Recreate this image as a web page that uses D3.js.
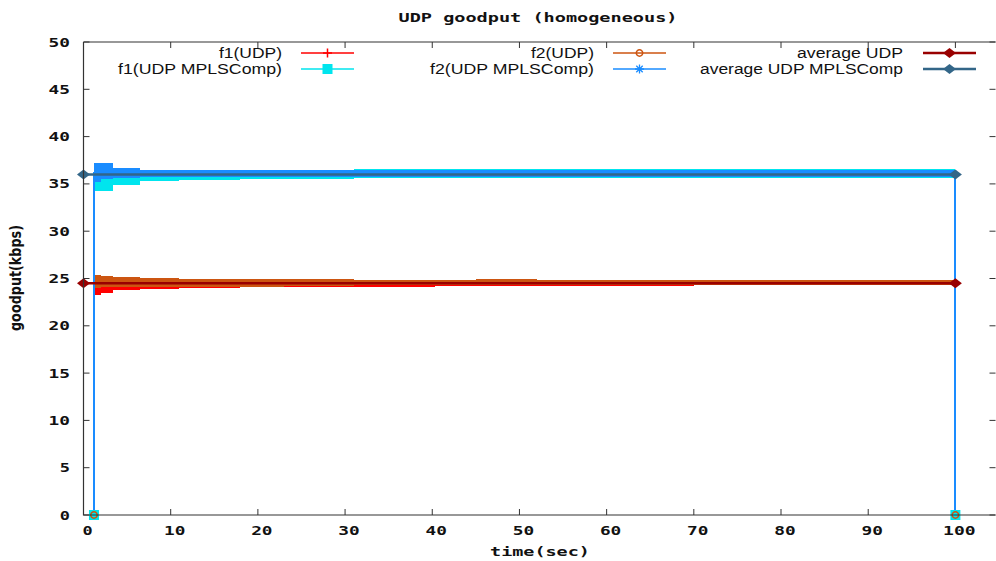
<!DOCTYPE html>
<html>
<head>
<meta charset="utf-8">
<script src="https://cdn.jsdelivr.net/npm/d3@7/dist/d3.min.js"></script>
<style>
  body { margin: 0; background: #fff; }
  svg { display: block; }
</style>
</head>
<body>
<div id="chart"></div>
<script>
(function(d3) {
  'use strict';

  // values
  var xTicks = [0, 10, 20, 30, 40, 50, 60, 70, 80, 90, 100];
  var yTicks = [0, 5, 10, 15, 20, 25, 30, 35, 40, 45, 50];

  var seriesNames = ['f1(UDP)', 'f1(UDP MPLSComp)', 'f2(UDP)', 'f2(UDP MPLSComp)'];
  var avgNames = ['average UDP', 'average UDP MPLSComp'];

  var startTime = 1.2;
  var endTime = 100;

  // envelope of each noisy trace (min / max over each time step)
  var bandTime   = [1.2,  2,    3.4,  6.5,  11,    18,   23,   31,    45,    52,    70,    100];
  var f1UdpLow   = [23.3, 23.5, 23.8, 23.9, 23.95, 24.1, 24.2, 24.25, 24.25, 24.25, 24.3,  24.3];
  var f1UdpHigh  = [24.9, 24.8, 24.7, 24.7, 24.7,  24.7, 24.7, 24.7,  24.7,  24.7,  24.7,  24.7];
  var f1MplsLow  = [34.2, 34.2, 34.9, 35.3, 35.4,  35.5, 35.5, 35.65, 35.65, 35.65, 35.65, 35.65];
  var f1MplsHigh = [36.9, 36.8, 36.5, 36.45,36.45, 36.45,36.45,36.55, 36.55, 36.55, 36.55, 36.55];
  var f2UdpLow   = [24.0, 24.05,24.1, 24.1, 24.1,  24.1, 24.25,24.3,  24.3,  24.3,  24.3,  24.3];
  var f2UdpHigh  = [25.4, 25.3, 25.2, 25.1, 25.0,  24.95,24.9, 24.85, 24.9,  24.85, 24.85, 24.85];
  var f2MplsLow  = [35.2, 35.5, 35.65,35.7, 35.7,  35.7, 35.7, 35.75, 35.75, 35.75, 35.75, 35.75];
  var f2MplsHigh = [37.2, 37.2, 36.65,36.45,36.45, 36.45,36.45,36.5,  36.5,  36.5,  36.5,  36.5];

  var avgValues = [24.5, 36.0];
  var avgTimes = [0, 100];

  var width = 996;
  var height = 561;
  var left = 83.5, right = 995.5, top = 42, bottom = 515;

  var colors = ['#ff0000', '#00e5ee', '#cc5511', '#1a8cff'];
  var markers = ['plus', 'square', 'circle', 'star'];
  var avgColors = ['#990000', '#336688'];

  var series = [
    { name: seriesNames[0], low: f1UdpLow, high: f1UdpHigh },
    { name: seriesNames[1], low: f1MplsLow, high: f1MplsHigh },
    { name: seriesNames[2], low: f2UdpLow, high: f2UdpHigh },
    { name: seriesNames[3], low: f2MplsLow, high: f2MplsHigh }
  ];

  var x = d3.scaleLinear().domain([0, 104.6]).range([left, right]);
  var y = d3.scaleLinear().domain([0, 50]).range([bottom, top]);

  var svg = d3.select('#chart')
    .append('svg')
    .attr('width', width)
    .attr('height', height);

  var pixFont = '"DejaVu Sans Mono", monospace';
  var charW = 11.2;

  function pixText(sel, str, anchor) {
    return sel.append('text')
      .attr('font-family', pixFont)
      .attr('font-weight', 'bold')
      .attr('font-size', 12)
      .attr('fill', '#111')
      .attr('text-anchor', anchor || 'middle')
      .attr('textLength', str.length * charW - 1)
      .attr('lengthAdjust', 'spacingAndGlyphs')
      .text(str);
  }

  // title
  pixText(svg, 'UDP goodput (homogeneous)').attr('x', 538).attr('y', 22);

  // x axis ticks + labels (mirrored on top)
  var axisColor = '#333';
  var xt = svg.append('g');
  xTicks.forEach(function(t) {
    xt.append('line').attr('x1', x(t)).attr('x2', x(t)).attr('y1', bottom).attr('y2', bottom - 6)
      .attr('stroke', axisColor);
    xt.append('line').attr('x1', x(t)).attr('x2', x(t)).attr('y1', top).attr('y2', top + 6)
      .attr('stroke', axisColor);
    pixText(xt, String(t)).attr('x', x(t) + 4).attr('y', 535);
  });

  var yt = svg.append('g');
  yTicks.forEach(function(t) {
    yt.append('line').attr('x1', left).attr('x2', left + 6).attr('y1', y(t)).attr('y2', y(t))
      .attr('stroke', axisColor);
    yt.append('line').attr('x1', right).attr('x2', right - 6).attr('y1', y(t)).attr('y2', y(t))
      .attr('stroke', axisColor);
    pixText(yt, String(t), 'end').attr('x', 70).attr('y', y(t) + 4.5);
  });

  pixText(svg, 'time(sec)').attr('x', 540).attr('y', 556);

  svg.append('text')
    .attr('transform', 'translate(21,278) rotate(-90)')
    .attr('font-family', '"DejaVu Sans", sans-serif')
    .attr('font-weight', 'bold')
    .attr('font-size', 15)
    .attr('fill', '#111')
    .attr('text-anchor', 'middle')
    .attr('textLength', 106)
    .attr('lengthAdjust', 'spacingAndGlyphs')
    .text('goodput(kbps)');

  // markers
  function marker(g, type, cx, cy, color) {
    var m = g.append('g').attr('transform', 'translate(' + cx + ',' + cy + ')');
    if (type === 'plus') {
      m.append('path').attr('d', 'M-4.5,0H4.5M0,-4.5V4.5').attr('stroke', color).attr('stroke-width', 1.5);
    } else if (type === 'square') {
      m.append('rect').attr('x', -5).attr('y', -5).attr('width', 10).attr('height', 10).attr('fill', color);
    } else if (type === 'circle') {
      m.append('circle').attr('r', 3.2).attr('fill', 'none').attr('stroke', color).attr('stroke-width', 1.5);
    } else if (type === 'star') {
      m.append('path').attr('d', 'M-4.5,0H4.5M0,-4.5V4.5M-3.2,-3.2L3.2,3.2M-3.2,3.2L3.2,-3.2')
        .attr('stroke', color).attr('stroke-width', 1.3);
    } else if (type === 'diamond') {
      m.append('path').attr('d', 'M-6.5,0L0,-5L6.5,0L0,5Z').attr('fill', color);
    }
  }

  var plot = svg.append('g');

  var band = d3.area()
    .curve(d3.curveStepAfter)
    .x(function(d) { return x(d.t); })
    .y0(function(d) { return y(d.lo); })
    .y1(function(d) { return y(d.hi); });

  var line = d3.line()
    .x(function(d) { return x(d[0]); })
    .y(function(d) { return y(d[1]); });

  var endMarks = plot.append('g');

  series.forEach(function(s, i) {
    var pts = bandTime.map(function(t, j) { return { t: t, lo: s.low[j], hi: s.high[j] }; });
    var last = s.low.length - 1;
    var mid0 = (s.low[0] + s.high[0]) / 2;
    var midN = (s.low[last] + s.high[last]) / 2;

    plot.append('path')
      .attr('d', line([[startTime, 0], [startTime, mid0], [endTime, midN], [endTime, 0]]))
      .attr('fill', 'none')
      .attr('stroke', colors[i])
      .attr('stroke-width', 2)
      .attr('shape-rendering', 'crispEdges');

    plot.append('path')
      .attr('d', band(pts))
      .attr('fill', colors[i])
      .attr('shape-rendering', 'crispEdges');

    if (markers[i] !== 'star') {
      marker(endMarks, markers[i], x(startTime), y(0), colors[i]);
      marker(endMarks, markers[i], x(endTime), y(0), colors[i]);
    }
  });

  avgValues.forEach(function(v, i) {
    plot.append('path')
      .attr('d', line(avgTimes.map(function(t) { return [t, v]; })))
      .attr('stroke', avgColors[i])
      .attr('stroke-width', 2.5);
    avgTimes.forEach(function(t) {
      marker(plot, 'diamond', x(t), y(v), avgColors[i]);
    });
  });

  endMarks.raise();

  // frame
  svg.append('path')
    .attr('d', 'M' + left + ',' + top + 'H' + right + 'M' + left + ',' + top + 'V' + bottom + 'H' + right)
    .attr('fill', 'none')
    .attr('stroke', axisColor)
    .attr('stroke-width', 1.2);

  // legend
  var legendItems = [
    { name: seriesNames[0], color: colors[0], marker: markers[0], tx: 282, lx: 301, row: 0, w: 63 },
    { name: seriesNames[1], color: colors[1], marker: markers[1], tx: 282, lx: 301, row: 1, w: 164 },
    { name: seriesNames[2], color: colors[2], marker: markers[2], tx: 594, lx: 613, row: 0, w: 63 },
    { name: seriesNames[3], color: colors[3], marker: markers[3], tx: 594, lx: 613, row: 1, w: 164 },
    { name: avgNames[0], color: avgColors[0], marker: 'diamond', tx: 903, lx: 923, row: 0, w: 106 },
    { name: avgNames[1], color: avgColors[1], marker: 'diamond', tx: 903, lx: 923, row: 1, w: 203 }
  ];

  var legend = svg.append('g');
  legendItems.forEach(function(it) {
    var ly = it.row === 0 ? 53 : 69;
    legend.append('text')
      .attr('x', it.tx)
      .attr('y', ly + 5)
      .attr('text-anchor', 'end')
      .attr('font-family', '"Liberation Sans", Arial, sans-serif')
      .attr('font-size', 14)
      .attr('fill', '#111')
      .attr('textLength', it.w)
      .attr('lengthAdjust', 'spacingAndGlyphs')
      .text(it.name);
    legend.append('line')
      .attr('x1', it.lx).attr('x2', it.lx + 53)
      .attr('y1', ly).attr('y2', ly)
      .attr('stroke', it.color)
      .attr('stroke-width', it.marker === 'diamond' ? 2.5 : 1.5);
    marker(legend, it.marker, it.lx + 26.5, ly, it.color);
  });

})(window.d3);
</script>
</body>
</html>
